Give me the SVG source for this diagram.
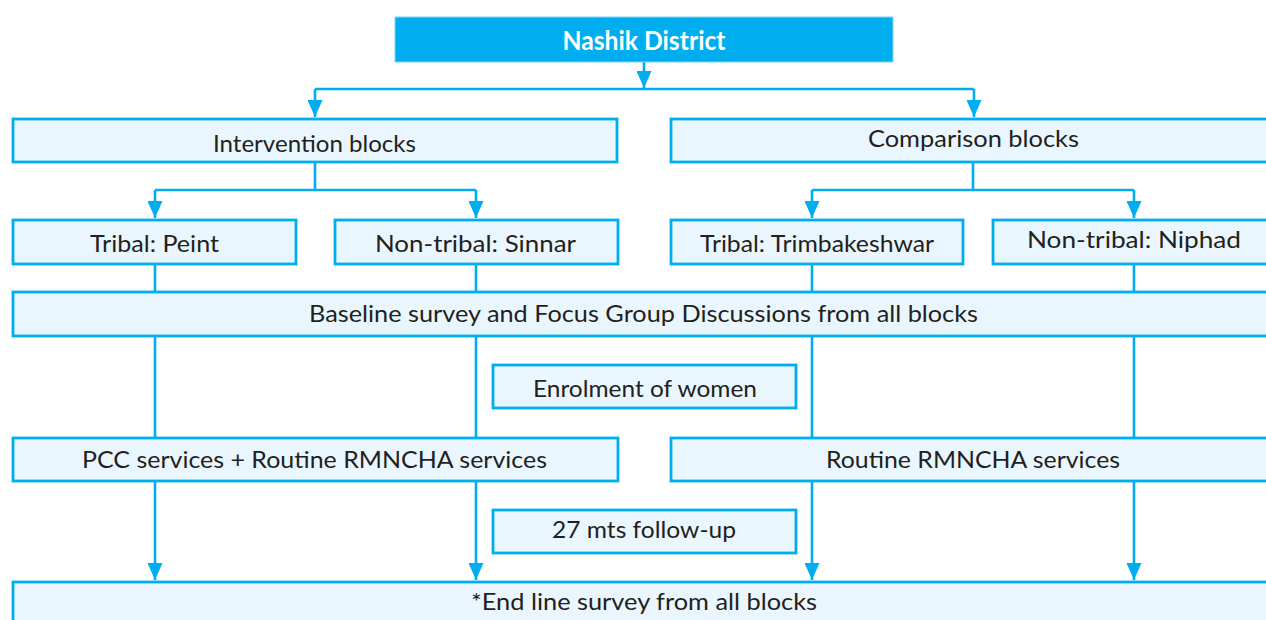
<svg xmlns="http://www.w3.org/2000/svg" width="1266" height="620" viewBox="0 0 1266 620">
  <style>
    .box { fill: #EAF6FD; stroke: #00AEEF; stroke-width: 2.8; }
    .lbl { font-family: Lato, "Open Sans", "Liberation Sans", sans-serif; font-size: 24px; fill: #231F20; }
    .lbl-main { font-family: Lato, "Open Sans", "Liberation Sans", sans-serif; font-size: 26px; font-weight: bold; fill: #FFFFFF; }
    .wire { fill: none; stroke: #00AEEF; stroke-width: 2.6; }
  </style>
  <defs>
    <marker id="arrow" viewBox="0 0 17 15" refX="17" refY="7.5" markerWidth="17" markerHeight="15" markerUnits="userSpaceOnUse" orient="auto">
      <path d="M0,0 L17,7.5 L0,15 Z" fill="#00AEEF"/>
    </marker>
  </defs>
  <rect width="1266" height="620" fill="#FFFFFF"/>

  <!-- connectors -->
  <g id="connectors">
    <path class="wire" d="M644,62 V88" marker-end="url(#arrow)"/>
    <path class="wire" d="M315,89 H974"/>
    <path class="wire" d="M315,89 V117" marker-end="url(#arrow)"/>
    <path class="wire" d="M974,89 V117" marker-end="url(#arrow)"/>

    <path class="wire" d="M315,162 V190 M155,190 H476"/>
    <path class="wire" d="M155,190 V218" marker-end="url(#arrow)"/>
    <path class="wire" d="M476,190 V218" marker-end="url(#arrow)"/>

    <path class="wire" d="M973,162 V190 M812,190 H1134"/>
    <path class="wire" d="M812,190 V218" marker-end="url(#arrow)"/>
    <path class="wire" d="M1134,190 V218" marker-end="url(#arrow)"/>

    <path class="wire" d="M155,264 V291 M476,264 V291 M812,264 V291 M1134,264 V291"/>
    <path class="wire" d="M155,336 V437 M476,336 V437 M812,336 V437 M1134,336 V437"/>

    <path class="wire" d="M155,481 V580" marker-end="url(#arrow)"/>
    <path class="wire" d="M476,481 V580" marker-end="url(#arrow)"/>
    <path class="wire" d="M812,481 V580" marker-end="url(#arrow)"/>
    <path class="wire" d="M1134,481 V580" marker-end="url(#arrow)"/>
  </g>

  <!-- nodes -->
  <g id="nashik">
    <rect x="395" y="17" width="498" height="45" fill="#00AEEF" stroke="#7FD3F5" stroke-width="1"/>
    <text class="lbl-main" x="562.5" y="50" textLength="163" lengthAdjust="spacingAndGlyphs">Nashik District</text>
  </g>
  <g id="intervention">
    <rect class="box" x="13" y="119" width="604" height="43"/>
    <text class="lbl" x="213" y="152" textLength="203" lengthAdjust="spacingAndGlyphs">Intervention blocks</text>
  </g>
  <g id="comparison">
    <rect class="box" x="671" y="119" width="600" height="43"/>
    <text class="lbl" x="868" y="147" textLength="211" lengthAdjust="spacingAndGlyphs">Comparison blocks</text>
  </g>
  <g id="peint">
    <rect class="box" x="13" y="220" width="283" height="44"/>
    <text class="lbl" x="90" y="252" textLength="129" lengthAdjust="spacingAndGlyphs">Tribal: Peint</text>
  </g>
  <g id="sinnar">
    <rect class="box" x="335" y="220" width="283" height="44"/>
    <text class="lbl" x="375" y="252" textLength="201" lengthAdjust="spacingAndGlyphs">Non-tribal: Sinnar</text>
  </g>
  <g id="trimbakeshwar">
    <rect class="box" x="671" y="220" width="292" height="44"/>
    <text class="lbl" x="700" y="252" textLength="234" lengthAdjust="spacingAndGlyphs">Tribal: Trimbakeshwar</text>
  </g>
  <g id="niphad">
    <rect class="box" x="993" y="220" width="280" height="44"/>
    <text class="lbl" x="1027" y="248" textLength="214" lengthAdjust="spacingAndGlyphs">Non-tribal: Niphad</text>
  </g>
  <g id="baseline">
    <rect class="box" x="13" y="292" width="1260" height="44"/>
    <text class="lbl" x="309" y="322" textLength="669" lengthAdjust="spacingAndGlyphs">Baseline survey and Focus Group Discussions from all blocks</text>
  </g>
  <g id="enrolment">
    <rect class="box" x="493" y="365" width="303" height="43"/>
    <text class="lbl" x="533" y="397" textLength="224" lengthAdjust="spacingAndGlyphs">Enrolment of women</text>
  </g>
  <g id="pcc">
    <rect class="box" x="13" y="438" width="605" height="43"/>
    <text class="lbl" x="82" y="468" textLength="465" lengthAdjust="spacingAndGlyphs">PCC services + Routine RMNCHA services</text>
  </g>
  <g id="routine">
    <rect class="box" x="671" y="438" width="600" height="43"/>
    <text class="lbl" x="826" y="468" textLength="294" lengthAdjust="spacingAndGlyphs">Routine RMNCHA services</text>
  </g>
  <g id="followup">
    <rect class="box" x="493" y="510" width="303" height="43"/>
    <text class="lbl" x="552" y="538" textLength="184" lengthAdjust="spacingAndGlyphs">27 mts follow-up</text>
  </g>
  <g id="endline">
    <rect class="box" x="13" y="582" width="1260" height="60"/>
    <text class="lbl" x="471" y="610" textLength="346" lengthAdjust="spacingAndGlyphs">*End line survey from all blocks</text>
  </g>
</svg>
